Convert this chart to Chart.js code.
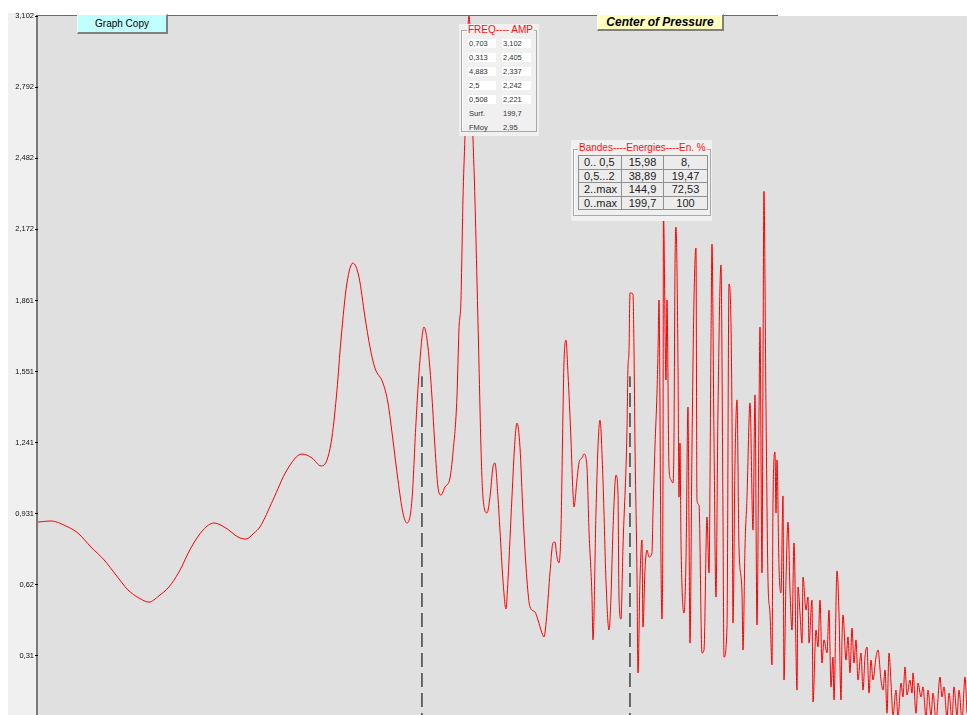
<!DOCTYPE html>
<html><head><meta charset="utf-8">
<script src="https://cdn.jsdelivr.net/npm/chart.js@4/dist/chart.umd.min.js"></script>
<style>
html,body{margin:0;padding:0;background:#fff;overflow:hidden;}
#wrap{position:relative;width:967px;height:715px;font-family:"Liberation Sans",Arial,sans-serif;}
#c{position:absolute;left:0;top:0;}
.btn{position:absolute;left:77px;top:14px;width:91px;height:20px;box-sizing:border-box;background:#c0ffff;border-top:1px solid #fff;border-left:1px solid #fff;border-right:2px solid #808080;border-bottom:2px solid #808080;font-size:10px;line-height:17px;text-align:center;color:#000;}
.cop{position:absolute;left:597px;top:14px;width:127px;height:17px;box-sizing:border-box;background:#ffffc0;border-top:1px solid #fff;border-left:1px solid #fff;border-right:2px solid #808080;border-bottom:2px solid #808080;font-size:12px;font-weight:bold;font-style:italic;line-height:14px;text-align:center;color:#000;}
.panel{position:absolute;background:#f0f0f0;}
.grp{position:absolute;border:1px solid #a8a8a8;box-shadow:inset 1px 1px 0 #fff;box-sizing:border-box;}
.ttl{position:absolute;background:#f0f0f0;color:#ff1010;font-size:10px;line-height:12px;padding:0 1px;white-space:nowrap;}
.cell{position:absolute;background:#fff;font-size:7.5px;line-height:9px;height:9px;padding-left:1px;color:#333;white-space:nowrap;}
.lbl{position:absolute;font-size:7.5px;line-height:9px;height:9px;padding-left:1px;color:#333;white-space:nowrap;}
#btab{position:absolute;left:7px;top:15px;border-collapse:collapse;border:1px solid #808080;}
#btab td{border:1px solid #909090;padding:0;height:12.5px;font-size:11px;line-height:12px;color:#222;text-align:center;background:#ececec;}
#btab td.first{text-align:left;padding-left:5px;}
</style></head>
<body>
<div id="wrap">
<canvas id="c" width="967" height="715"></canvas>
<div class="btn">Graph Copy</div>
<div class="cop">Center of Pressure</div>
<div class="panel" id="fbox" style="left:459px;top:24px;width:80px;height:112px;">
  <div class="grp" style="left:2px;top:6px;width:76px;height:102px;"></div>
  <div class="ttl" style="left:8px;top:0px;">FREQ---- AMP</div>
</div>
<div class="panel" id="bbox" style="left:571px;top:140px;width:141px;height:81px;">
  <div class="grp" style="left:2px;top:9px;width:138px;height:67px;"></div>
  <div class="ttl" style="left:7px;top:2px;">Bandes----Energies----En. %</div>
  <table id="btab"><tbody></tbody></table>
</div>
</div>
<script>
// ---- spectrum (frequency in Hz, amplitude) ----
const freqHz = [
0.0387,0.0422,0.0466,0.0505,0.0551,0.0601,0.0651,0.0705,0.0758,0.0811,
0.0866,0.0926,0.0990,0.1072,0.1162,0.1250,0.1354,0.1467,0.1547,0.1632,
0.1699,0.1852,0.2033,0.2247,0.2402,0.2551,0.2655,0.2745,0.2838,0.2914,
0.3033,0.3157,0.3286,0.3420,0.3536,0.3655,0.3856,0.3986,0.4121,0.4261,
0.4405,0.4524,0.4678,0.4804,0.4934,0.5067,0.5204,0.5345,0.5453,0.5563,
0.5675,0.5828,0.6026,0.6147,0.6314,0.6398,0.6484,0.6571,0.6659,0.6840,
0.7024,0.7118,0.7214,0.7311,0.7409,0.7508,0.7711,0.7867,0.8026,0.8133,
0.8298,0.8409,0.8579,0.8752,0.8870,0.9109,0.9293,0.9418,0.9608,0.9802,
1.0067,1.0270,1.0618,1.0833,1.1125,1.1275,1.1502,1.1735,1.1972,1.2132,
1.2295,1.2460,1.2627,1.2797,1.2882,1.3055,1.3230,1.3498,1.3679,1.3770,
1.4048,1.4237,1.4524,1.4719,1.5016,1.5218,1.5525,1.5629,1.5945,1.6159,
1.6376,1.6706,1.7044,1.7388,1.7621,1.7858,1.8218,1.8463,1.8586,1.8836,
1.9088,1.9604,1.9735,1.9867,2.0000,2.0404,2.0540,2.0678,2.0955,2.1095,
2.1378,2.1665,2.1810,2.2103,2.2399,2.2700,2.3158,2.3313,2.3626,2.3943,
2.4103,2.4264,2.4590,2.4755,2.4920,2.5000,2.5423,2.5593,2.5937,2.6285,
2.6638,2.6816,2.6995,2.7175,2.7540,2.7724,2.7910,2.8096,2.8664,2.9048,
2.9438,2.9635,2.9833,3.0234,3.0639,3.1050,3.1258,3.1678,3.2317,3.2751,
3.3412,3.3861,3.4315,3.4545,3.5008,3.5478,3.5954,3.6680,3.7172,3.7421,
3.8177,3.8689,3.9470,3.9734,4.0268,4.0808,4.1355,4.2191,4.2473,4.3043,
4.3620,4.4501,4.5400,4.6009,4.6626,4.7252,4.7568,4.8206,4.8529,4.8830,
4.9509,5.0173,5.0846,5.1529,5.1874,5.2570,5.2921,5.3275,5.3990,5.4714,
5.5448,5.5819,5.6568,5.7328,5.8097,5.8876,5.9666,6.0871,6.1279,6.2101,
6.2934,6.3355,6.4634,6.5502,6.5940,6.7271,6.7721,6.9089,7.0016,7.0956,
7.1908,7.2873,7.4344,7.5342,7.6353,7.7378,7.7895,7.9468,8.0535,8.1615,
8.2161,8.2711,8.4381,8.5513,8.6661,8.7824,8.9002,9.0196,9.1407,9.3253,
9.4504,9.5773,9.7057,9.8360,9.9680,10.102,10.306,10.444,10.655,10.798,
10.943,11.090,11.238,11.390,11.543,11.776,11.934,12.174,12.337,12.503,
12.671,12.927,13.101,13.188,13.454,13.635,13.910,14.097,14.382,14.575,
14.869,15.068,15.373,15.788,16.000,16.215,16.542,16.764,17.103,17.332,
17.682,17.919,18.281,18.650,18.900
];
const amplitude = [
0.894,0.899,0.877,0.846,0.785,0.729,0.663,0.598,0.563,0.545,
0.572,0.611,0.676,0.781,0.859,0.890,0.868,0.829,0.820,0.846,
0.873,0.990,1.121,1.191,1.174,1.139,1.165,1.265,1.470,1.688,
1.937,2.024,1.963,1.789,1.658,1.566,1.501,1.414,1.252,1.078,
0.934,0.890,0.990,1.326,1.601,1.745,1.658,1.440,1.222,1.047,
1.012,1.047,1.086,1.195,1.440,1.732,1.863,2.299,2.574,3.102,
2.574,2.299,1.950,1.588,1.222,1.003,0.934,1.003,1.134,1.152,
1.003,0.859,0.641,0.515,0.641,1.003,1.252,1.326,1.222,0.934,
0.641,0.524,0.502,0.467,0.410,0.393,0.497,0.672,0.803,0.807,
0.742,0.716,0.859,1.370,1.588,1.688,1.544,1.252,1.021,0.960,
1.078,1.152,1.174,1.191,1.134,0.859,0.567,0.380,0.934,1.222,
1.339,1.078,0.641,0.423,0.567,0.859,1.099,1.021,0.567,0.471,
0.785,1.296,1.571,1.636,1.894,1.889,1.658,1.239,0.672,0.236,
0.641,0.816,0.436,0.685,0.772,0.742,0.759,0.934,1.222,1.457,
1.632,1.863,0.716,0.471,1.078,2.242,1.514,1.863,1.134,1.078,
1.065,1.252,1.994,2.181,1.601,1.003,1.239,0.816,0.497,0.729,
1.396,0.903,0.366,1.209,1.863,2.090,0.990,0.969,0.323,0.336,
0.916,0.672,1.675,2.107,1.265,0.567,1.383,2.016,0.934,0.305,
0.436,1.933,1.370,0.454,1.152,1.427,0.785,0.585,0.336,0.785,
1.003,1.414,0.859,1.449,0.445,1.370,1.745,0.672,1.558,2.337,
1.396,0.641,0.497,0.271,0.977,1.200,0.934,1.165,0.698,0.585,
1.008,0.205,0.641,0.894,0.598,0.423,0.803,0.161,0.611,0.497,
0.366,0.654,0.510,0.567,0.366,0.554,0.109,0.423,0.349,0.554,
0.279,0.380,0.323,0.510,0.175,0.305,0.118,0.681,0.497,0.118,
0.380,0.489,0.292,0.393,0.236,0.432,0.279,0.380,0.205,0.323,
0.161,0.305,0.349,0.148,0.292,0.205,0.305,0.336,0.205,0.161,
0.249,0.060,0.323,0.192,0.050,0.161,0.040,0.192,0.131,0.262,
0.140,0.205,0.148,0.236,0.060,0.192,0.131,0.175,0.040,0.161,
0.050,0.148,0.030,0.218,0.131,0.175,0.040,0.148,0.030,0.175,
0.050,0.161,0.030,0.218,0.060
];
// band limits (Hz) drawn as dashed markers, and their marker height
const bandEdges = [0.5, 2.0];
const bandMarkerTop = 1.53;
// axis
const yTicks = [0.31, 0.62, 0.931, 1.241, 1.551, 1.861, 2.172, 2.482, 2.792, 3.102];
const yMin = 0.0524, yMax = 3.102;
const xMin = 0.0387, xMax = 18.9;
// peak table
const peakFreq = [0.703, 0.313, 4.883, 2.5, 0.508];
const peakAmp = [3.102, 2.405, 2.337, 2.242, 2.221];
const surfValue = 199.7;
const fMoy = 2.95;
// energy bands table
const bandNames = ['0.. 0,5', '0,5...2', '2..max', '0..max'];
const bandEnergy = [15.98, 38.89, 144.9, 199.7];
const bandPercentText = ['8,', '19,47', '72,53', '100'];

const fmt = v => String(v).replace('.', ',');

// build peak table
const fbox = document.getElementById('fbox');
peakFreq.forEach((f, i) => {
  const top = 15 + i * 14;
  const a = document.createElement('div'); a.className = 'cell';
  a.style.cssText = `left:9px;top:${top}px;width:27px;`; a.textContent = fmt(f); fbox.appendChild(a);
  const b = document.createElement('div'); b.className = 'cell';
  b.style.cssText = `left:43px;top:${top}px;width:28px;`; b.textContent = fmt(peakAmp[i]); fbox.appendChild(b);
});
[['Surf.', surfValue], ['FMoy', fMoy]].forEach(([n, v], i) => {
  const top = 85 + i * 14;
  const a = document.createElement('div'); a.className = 'lbl';
  a.style.cssText = `left:9px;top:${top}px;`; a.textContent = n; fbox.appendChild(a);
  const b = document.createElement('div'); b.className = 'lbl';
  b.style.cssText = `left:43px;top:${top}px;`; b.textContent = fmt(v); fbox.appendChild(b);
});
// build band table
const tb = document.querySelector('#btab tbody');
bandNames.forEach((n, i) => {
  const tr = document.createElement('tr');
  tr.innerHTML = `<td class="first" style="width:37px">${n}</td><td style="width:41px">${fmt(bandEnergy[i])}</td><td style="width:43px">${bandPercentText[i]}</td>`;
  tb.appendChild(tr);
});

const spectrum = freqHz.map((f, i) => ({x: f, y: amplitude[i]}));
const markerSets = bandEdges.map(f => ({
  data: [{x: f, y: 0}, {x: f, y: bandMarkerTop}],
  borderColor: '#4a4a4a', borderWidth: 1.6, borderDash: [14, 6],
  pointRadius: 0, tension: 0
}));

const bgPlugin = {
  id: 'bg',
  beforeDraw(chart) {
    const {ctx, chartArea: a} = chart;
    ctx.save();
    ctx.fillStyle = '#ffffff'; ctx.fillRect(0, 0, chart.width, chart.height);
    ctx.fillStyle = '#f0f0f0'; ctx.fillRect(8, 13, a.left - 8, chart.height - 13);
    ctx.fillStyle = '#e0e0e0'; ctx.fillRect(a.left, a.top, a.right - a.left, chart.height - a.top);
    ctx.fillStyle = '#7a7a7a'; ctx.fillRect(a.left - 2, a.top - 1, 2, chart.height - a.top + 1);
    ctx.fillStyle = '#6a6a6a'; ctx.fillRect(a.left - 2, a.top - 1, 780 - a.left, 1);
    ctx.restore();
  }
};

new Chart(document.getElementById('c'), {
  type: 'line',
  data: {
    datasets: [
      {data: spectrum, borderColor: '#ff0000', borderWidth: 1, pointRadius: 0,
       cubicInterpolationMode: 'monotone'},
      ...markerSets
    ]
  },
  options: {
    responsive: false, animation: false, devicePixelRatio: 1,
    layout: {padding: {top: 16, left: 0, right: 0, bottom: 0}},
    plugins: {legend: {display: false}, tooltip: {enabled: false}},
    scales: {
      x: {type: 'logarithmic', min: xMin, max: xMax, display: false},
      y: {
        type: 'linear', min: yMin, max: yMax, position: 'left',
        afterFit(s) { s.width = 38; s.paddingTop = 0; s.paddingBottom = 0; },
        afterBuildTicks(s) { s.ticks = yTicks.map(v => ({value: v})); },
        grid: {drawOnChartArea: false, drawTicks: true, tickLength: 3, tickColor: '#000', tickWidth: 1},
        border: {display: false},
        ticks: {padding: 1, color: '#111', font: {size: 7.5, family: 'Liberation Sans'},
                callback: v => fmt(v)}
      }
    }
  },
  plugins: [bgPlugin]
});
</script>
</body></html>
